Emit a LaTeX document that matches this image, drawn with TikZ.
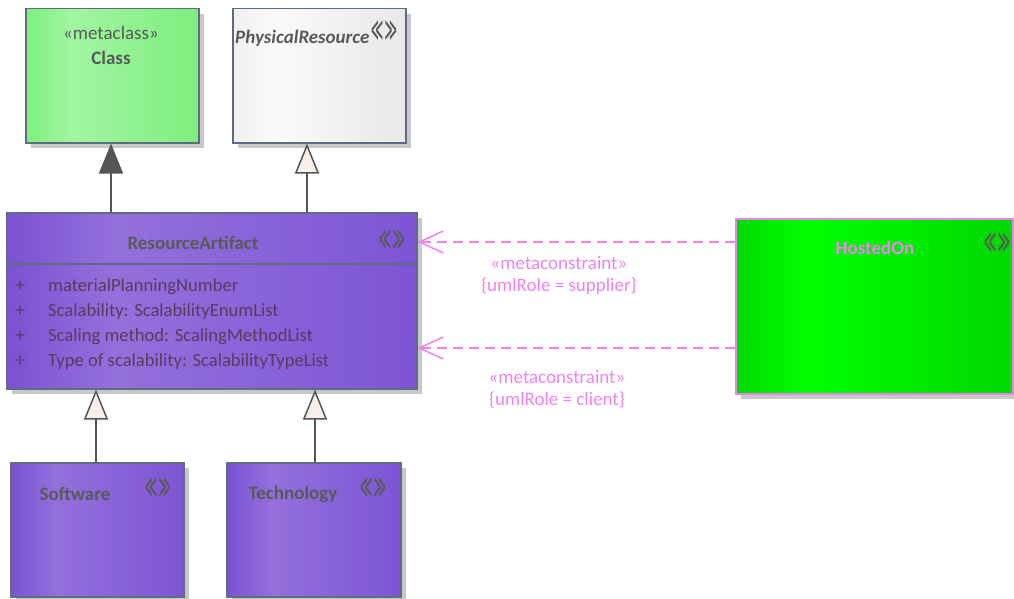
\documentclass[tikz,border=0pt]{standalone}
\usepackage{fontspec}
\setmainfont{Carlito}
\newfontfamily\djv{DejaVu Sans}
\usetikzlibrary{arrows.meta,shadows,calc}
\definecolor{edgeC}{HTML}{5E6B80}
\definecolor{txtC}{HTML}{595959}
\definecolor{attrC}{HTML}{5C3A5E}
\definecolor{pinkC}{HTML}{EE82EE}
\definecolor{shadowC}{HTML}{C8C8C8}
\definecolor{purA}{HTML}{7A52D3}
\definecolor{purB}{HTML}{9470DC}
\definecolor{purC}{HTML}{7D55D5}
\definecolor{grA}{HTML}{7CF07C}
\definecolor{grB}{HTML}{A2F5A2}
\definecolor{grC}{HTML}{7EEE7E}
\definecolor{whA}{HTML}{F0F0F0}
\definecolor{whB}{HTML}{FAFAFA}
\definecolor{whC}{HTML}{E8E8E8}
\definecolor{hoA}{HTML}{00DA00}
\definecolor{hoB}{HTML}{00FF00}
\definecolor{hoC}{HTML}{00D800}
\definecolor{headFill}{HTML}{F8EFEA}
\definecolor{headDark}{HTML}{555555}
\pgfdeclarehorizontalshading{purShade}{100bp}{color(0bp)=(purA); color(25bp)=(purA); color(38bp)=(purB); color(75bp)=(purC); color(100bp)=(purC)}
\pgfdeclarehorizontalshading{grShade}{100bp}{color(0bp)=(grA); color(25bp)=(grA); color(38bp)=(grB); color(75bp)=(grC); color(100bp)=(grC)}
\pgfdeclarehorizontalshading{whShade}{100bp}{color(0bp)=(whA); color(25bp)=(whA); color(38bp)=(whB); color(75bp)=(whC); color(100bp)=(whC)}
\pgfdeclarehorizontalshading{hoShade}{100bp}{color(0bp)=(hoA); color(25bp)=(hoA); color(38bp)=(hoB); color(75bp)=(hoC); color(100bp)=(hoC)}
\newcommand{\chevs}{\scalebox{0.8}[1.9]{\djv\bfseries\fontsize{15}{18}\selectfont ≪\kern1.5pt≫}}
\tikzset{
  ebox/.style={draw=edgeC, line width=1.5pt, inner sep=0pt, anchor=north west,
    drop shadow={shadow xshift=5pt, shadow yshift=-5pt, fill=shadowC, opacity=1}},
  ttl/.style={text=txtC, font=\fontsize{19}{22}\selectfont\bfseries, inner sep=0pt},
  ster/.style={text=txtC, font=\fontsize{19}{22}\selectfont, inner sep=0pt},
  chev/.style={text=txtC, inner sep=0pt},
  attr/.style={text=attrC, font=\fontsize{18.6}{22}\selectfont, inner sep=0pt, anchor=base west},
  plus/.style={text=attrC, font=\fontsize{19}{22}\selectfont, inner sep=0pt, anchor=base},
  plab/.style={text=pinkC, font=\fontsize{19}{22}\selectfont, inner sep=0pt},
  gen/.style={draw=headDark, line width=1.5pt, -{Triangle[length=30pt,width=24pt,fill=headFill]}},
  genfill/.style={draw=headDark, line width=1.5pt, -{Triangle[length=30pt,width=24pt,fill=headDark]}},
  mcon/.style={draw=pinkC, line width=1.5pt, dash pattern=on 10pt off 6pt,
    -{Straight Barb[length=24pt,width=22pt,line width=1.5pt]}},
}
\begin{document}
\begin{tikzpicture}[x=1pt,y=-1pt]
\useasboundingbox (0,0) rectangle (1014,599);
% boxes
\node[ebox, shading=grShade, minimum width=173pt, minimum height=134pt] (cls) at (25,8) {};
\node[ebox, shading=whShade, minimum width=173pt, minimum height=134pt] (pr) at (232,8) {};
\node[ebox, shading=purShade, minimum width=410pt, minimum height=176pt] (ra) at (6,212) {};
\node[ebox, shading=hoShade, draw=pinkC, minimum width=277pt, minimum height=175pt] (ho) at (735,218) {};
\node[ebox, shading=purShade, minimum width=173pt, minimum height=134pt] (sw) at (10,462) {};
\node[ebox, shading=purShade, minimum width=174pt, minimum height=134pt] (te) at (226,462) {};
\draw[draw=edgeC, line width=1.5pt] ($(ra.north west)+(0,52)$) coordinate (dl) -- (dl -| ra.east);
% texts
\node[ster] (clsS) at (111,33) {«metaclass»};
\node[ttl] (clsT) at (111,58) {Class};
\node[ttl, font=\fontsize{19}{22}\selectfont\bfseries\itshape, anchor=west] (prT) at (235,38) {PhysicalResource};
\node[chev] (prC) at (384,31) {\chevs};
\node[ttl] (raT) at (193,243) {ResourceArtifact};
\node[chev] (raC) at (392,240) {\chevs};
\node[plus] (p1) at (20,291) {+};
\node[plus] (p2) at (20,316) {+};
\node[plus] (p3) at (20,341) {+};
\node[plus] (p4) at (20,366) {+};
\node[attr] (a1) at (48,291) {materialPlanningNumber};
\node[attr] (a2) at (48,316) {Scalability: ScalabilityEnumList};
\node[attr] (a3) at (48,341) {Scaling method: ScalingMethodList};
\node[attr] (a4) at (48,366) {Type of scalability: ScalabilityTypeList};
\node[ttl, text=pinkC] (hoT) at (875,248) {HostedOn};
\node[chev] (hoC) at (997,243) {\chevs};
\node[ttl] (swT) at (75,494) {Software};
\node[chev] (swC) at (158,488) {\chevs};
\node[ttl] (teT) at (293,494) {Technology};
\node[chev] (teC) at (373,488) {\chevs};
% connectors
\coordinate (g1) at (111,0);
\coordinate (g2) at (307,0);
\coordinate (g3) at (96,0);
\coordinate (g4) at (315,0);
\draw[genfill] (ra.north -| g1) -- (cls.south -| g1);
\draw[gen] (ra.north -| g2) -- (pr.south -| g2);
\draw[gen] (sw.north -| g3) -- (ra.south -| g3);
\draw[gen] (te.north -| g4) -- (ra.south -| g4);
\coordinate (h1) at (0,242);
\coordinate (h2) at (0,348);
\draw[mcon] (ho.west |- h1) -- (ra.east |- h1);
\draw[mcon] (ho.west |- h2) -- (ra.east |- h2);
\node[plab] (l1) at (559,263) {«metaconstraint»};
\node[plab] (l2) at (559,286) {\{umlRole = supplier\}};
\node[plab] (l3) at (557,377) {«metaconstraint»};
\node[plab] (l4) at (557,400) {\{umlRole = client\}};
\end{tikzpicture}
\end{document}
